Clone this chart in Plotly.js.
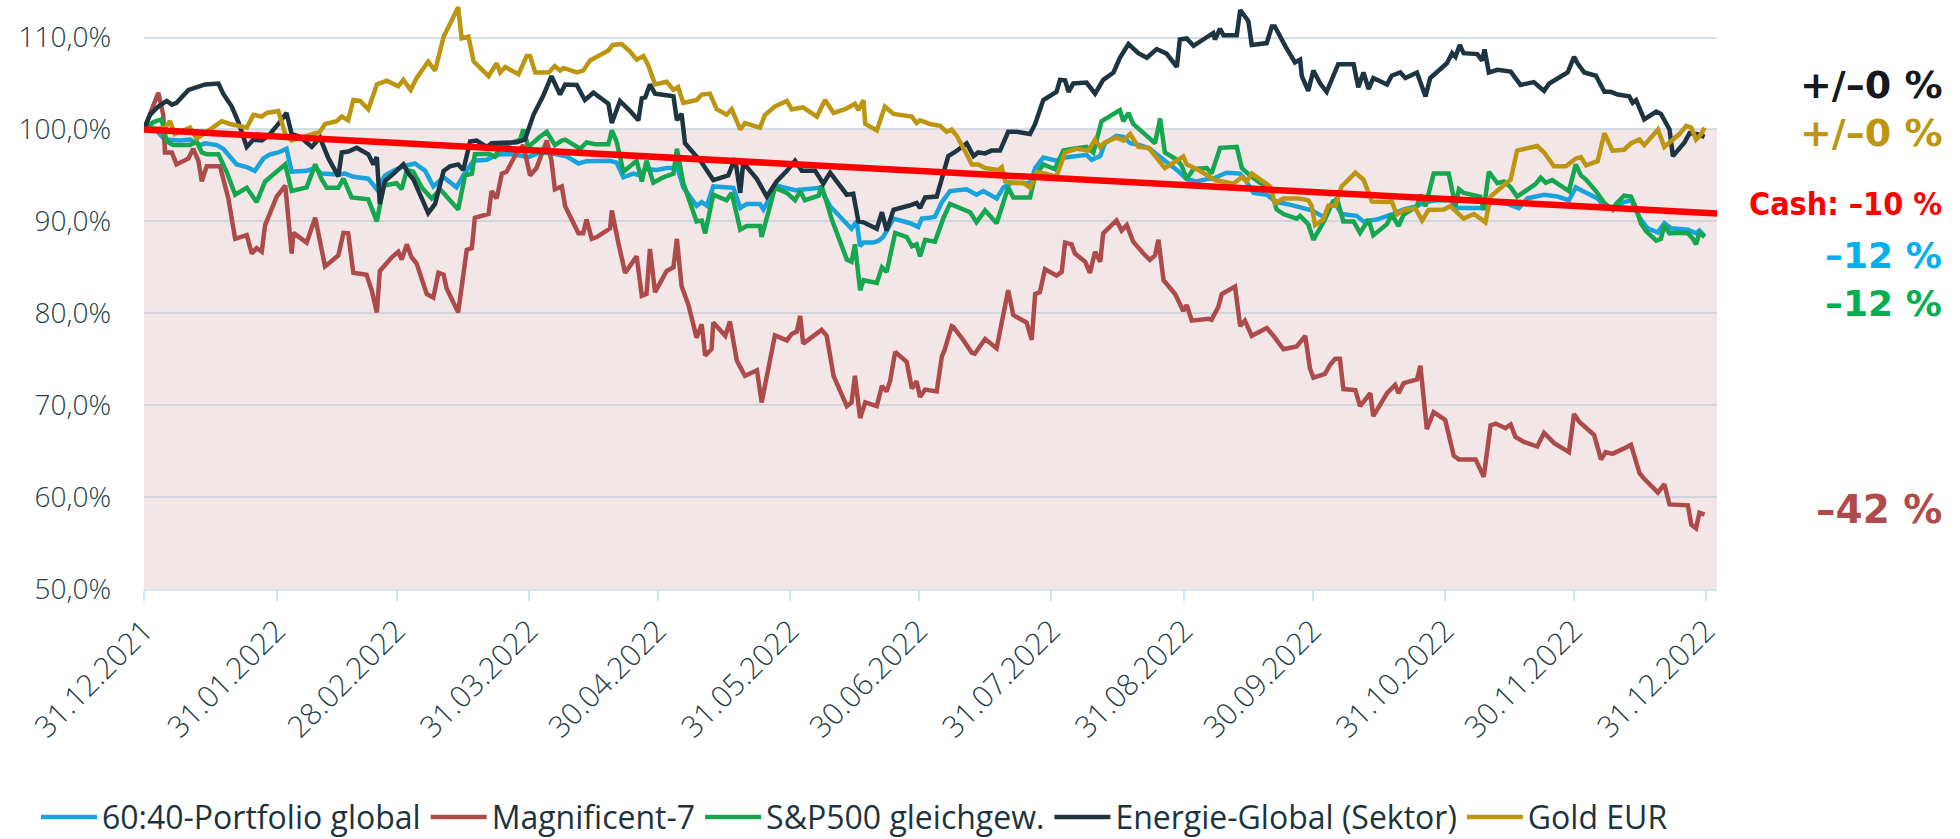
<!DOCTYPE html>
<html>
<head>
<meta charset="utf-8">
<script src="https://cdn.plot.ly/plotly-3.0.1.min.js"></script>
<style>
  html, body { margin: 0; padding: 0; background: #ffffff; }
  #chart { width: 1960px; height: 839px; }
</style>
</head>
<body>
<div id="chart"></div>
<script>
// ---- DATA (x = days since 31.12.2021, y = index value in %) ----
const seriesNames = ["60:40-Portfolio global", "Magnificent-7", "S&P500 gleichgew.", "Energie-Global (Sektor)", "Gold EUR"];

const p6040Days = [0,2.2,4.9,8.4,10.75,13.1,14.3,17,18.5,20.5,21.65,24,25.9,27.9,29.45,31.4,33.3,34.5,38,40,41.5,45.4,47,48.9,52.4,54.4,56.3,58.3,60.6,63.3,65.7,67.6,70,73,74.6,77,80.1,81.6,83.2,86.3,89.8,92.5,
  93.3,96.4,98.8,101.5,103.4,108.9,110.4,112.0,114.3,115.9,117.1,119.8,122.1,123.7,124.5,126.0,129.1,130.3,131.5,133.0,137.7,139.3,140.8,143.9,144.7,147.8,150.2,152.1,154.4,157.9,160.3,163.4,165.3,166.5,167.3,168.1,170.4,171.6,172.7,175.1,179.0,180.9,181.7,183.6,
  184.8,186.4,188.3,192.2,194.5,196.1,199.2,200.8,202.7,207.0,208.2,210.1,213.2,215.2,218.3,220.2,221.4,223.4,224.5,227.2,228.8,230.4,232.7,235.0,238.5,241.3,243.6,245.9,248.3,249.8,252.9,256.1,257.2,259.2,262.3,264.6,267.0,269.7,272.8,
  275.9,277.9,279.8,283.3,284.9,288.0,291.5,294.3,297.4,299.4,302.1,305.2,306.8,309.9,313.0,315.0,318.5,321.2,323.2,327.1,330.2,332.9,334.5,336.1,339.6,341.2,343.1,345.8,347.4,349.4,351.3,353.7,355.2,356.8,360.7,362.6,363.4,364.6];
const p6040Vals = [100,100.2,98.9,98.8,98.9,98.3,98.5,98.3,97.9,96.85,96.2,95.9,95.5,96.85,97.3,97.5,97.9,95.4,95.5,95.8,95.2,95.1,95.2,94.85,94.65,93.5,95.0,95.5,96.0,96.3,95.5,93.8,94.8,93.7,95.0,96.6,96.7,97.05,97.3,97.3,97.0,97.5,
  97.5,97.3,97.05,96.3,96.55,96.6,96.4,94.8,95.2,95.0,95.7,95.6,95.8,95.8,96.0,93.7,91.7,92.1,91.7,93.8,93.65,91.45,91.9,91.9,91.3,93.9,93.65,93.4,93.5,93.65,91.65,90.1,89.2,90.0,87.3,87.7,87.7,87.9,88.3,90.3,89.8,89.4,90.3,90.4,
  90.5,92.1,93.3,93.5,92.9,93.3,92.5,93.7,94.2,94.15,95.8,96.95,96.6,96.95,97.1,97.25,96.7,97.1,98.5,99.3,99.2,98.5,98.3,97.9,96.6,95.6,94.6,94.35,94.6,94.65,95.3,95.2,94.6,93.1,92.9,92.1,91.9,91.6,91.2,
  90.4,92.3,90.8,90.6,90.0,90.2,90.75,91.3,91.65,92.1,92.3,92.3,91.45,91.45,91.45,92.1,91.9,91.45,92.5,92.9,92.7,92.3,93.7,93.3,92.5,91.65,91.45,92.1,92.3,90.4,89.25,88.8,89.8,89.25,89.1,88.7,89.0,88.4];

const mag7Days = [0,3.35,4.5,4.9,6.5,7.6,10.4,11.5,12.7,13.5,14.65,17.75,19.7,21.3,24,25.2,26.3,27.5,28.3,31,33,34.5,34.9,38,40,42.3,45.4,46.6,47.7,48.9,52,53.2,54.4,55.1,57.9,59.4,60.2,61.4,62.5,63.7,66.05,67.6,68.8,70,70.7,73.4,75.4,76.6,77.3,80.5,81.2,82.4,83.6,84.7,87.1,88.6,90.2,
  91.7,94.1,95.2,96.0,97.6,98.4,101.5,102.6,103.4,104.6,105.8,108.9,109.3,110.8,112.4,115.1,116.3,117.4,118.2,119.4,122.1,123.7,124.5,125.6,127.2,129.1,130.3,131.1,132.6,133.0,135.8,136.9,138.5,140.4,143.2,144.3,147.4,150.2,151.3,152.5,153.3,154.0,158.3,159.5,161.1,164.2,165.3,166.1,167.3,168.5,171.2,172.4,173.5,174.3,175.5,178.2,179.4,180.5,181.3,182.5,
  185.2,186.4,187.1,188.7,189.1,191.4,193.4,194.1,196.5,199.2,200.4,201.9,203.1,205.4,206.2,207.4,208.2,209.3,210.5,213.2,214.4,215.2,216.7,217.5,219.9,221.0,222.2,223.4,224.1,227.2,228.4,229.6,231.1,233.5,235.0,236.2,237.0,238.2,240.9,242.8,243.6,244.8,248.7,249.4,251.0,251.8,254.9,256.1,257.2,258.8,262.3,263.9,266.2,269.3,271.3,272.4,273.2,
  275.9,277.1,278.3,279.4,280.2,283.0,284.1,286.5,287.2,290.4,292.3,293.1,294.3,297.4,298.2,299.7,301.3,304.0,306.0,307.2,311.1,313.0,314.6,315.8,318.1,319.3,320.4,322.4,325.5,327.1,329.4,332.9,334.1,335.3,338.8,340.4,341.5,343.1,345.8,347.4,349.4,350.5,353.7,355.2,356.4,359.5,360.7,361.5,362.6,363.4,364.6];
const mag7Vals = [100,104.0,101.6,97.5,97.5,96.2,96.85,97.9,96.6,94.35,96.0,96.0,92.5,88.1,88.5,86.5,87.1,86.7,89.6,92.7,93.9,86.5,88.75,87.7,90.4,85.1,86.3,88.75,88.7,84.4,84.2,82.5,80.1,84.6,86.1,86.7,85.85,87.5,86.1,85.4,82.1,81.7,84.4,84.2,82.7,80.1,86.9,87.1,90.4,90.8,93.3,92.5,95.2,95.4,97.5,98.3,95.0,
  95.8,98.8,96.6,93.5,93.8,91.65,88.7,88.7,90.2,88.1,88.3,89.25,91.2,87.7,84.4,86.2,81.9,82.1,87.0,82.3,84.6,85.0,88.1,82.95,80.9,77.35,78.8,75.4,76.1,79.0,77.55,79.1,74.85,73.2,73.8,70.3,77.6,77.05,77.75,78.0,79.7,76.7,78.2,77.55,73.2,69.9,70.3,73.2,68.6,70.3,69.9,72.1,71.5,72.6,75.8,74.7,71.8,72.6,70.9,71.7,
  71.5,75.3,76.1,78.6,78.5,77.1,75.7,75.6,77.2,76.2,79.2,82.5,79.8,79.2,79.0,77.1,82.1,82.3,84.8,84.1,84.5,87.7,87.5,86.5,85.6,84.4,86.7,85.6,88.7,90.1,89.0,89.6,87.8,86.5,85.8,86.3,88.0,83.6,82.1,80.25,80.9,79.2,79.4,79.3,80.7,82.1,82.9,78.6,79.2,77.55,78.4,77.55,76.1,76.4,77.55,74.0,73.0,
  73.4,74.4,75.05,75.05,71.75,71.65,69.9,71.3,68.8,71.3,72.2,71.3,72.4,72.8,74.3,67.4,69.25,68.4,64.5,64.1,64.1,62.2,67.8,68.0,67.5,67.9,66.55,66.0,65.5,67.0,65.9,64.9,69.05,68.2,66.75,64.1,64.9,64.7,65.3,65.7,62.6,62.0,60.5,61.4,59.2,59.2,59.1,57.0,56.6,58.3,58.1];

const spewDays = [0,2.2,4.1,5.3,6.85,10.75,12.3,13.5,14.65,17.4,19.3,21.3,24,26.3,28.3,31.8,33,34.5,38,40,41.5,42.7,45.4,46.6,48.5,52.4,54.4,56,59,60.2,61.4,62.9,64.9,67.2,69.2,73.4,75,76.6,77.3,80.5,82,83.2,86.3,87.9,88.6,89.8,92.5,
  94.1,96.0,97.6,98.4,101.9,103.4,105.4,108.5,109.3,110.4,112.0,115.1,116.3,117.4,119.0,121.3,123.7,124.5,126.0,129.1,130.3,131.1,133.0,136.1,137.3,139.3,140.8,143.9,144.3,147.4,150.2,152.1,153.3,154.4,157.6,158.3,160.7,164.2,165.3,166.1,167.3,168.1,171.2,172.4,173.5,175.5,178.2,179.4,180.5,181.3,182.5,
  184.8,186.8,188.3,191.8,193.0,194.5,195.7,196.5,199.2,201.9,203.1,207.0,208.2,210.1,212.8,214.8,217.1,220.2,221.8,223.7,228.0,228.8,230.0,231.1,235.0,236.2,237.4,238.5,241.3,242.4,243.6,245.2,248.3,249.4,251.4,253.7,255.3,256.5,258.4,260.7,263.1,264.6,266.2,269.3,270.1,272.0,273.2,
  275.9,277.5,278.7,279.4,280.2,282.6,284.1,286.1,287.2,290.4,291.5,293.1,294.3,297.4,298.2,299.4,301.3,304.8,306.4,307.2,308.3,312.2,313.0,314.2,316.2,317.7,319.3,320.8,322.4,325.1,326.3,327.5,329.0,331.0,332.9,334.5,335.7,336.9,339.2,341.2,343.1,343.9,345.8,347.4,348.6,349.7,350.9,353.3,354.4,355.2,356.4,358.3,360.7,361.9,362.6,363.4,364.6];
const spewVals = [100,100.8,101.1,98.7,98.3,98.3,98.7,97.5,97.3,97.3,95.4,92.9,93.65,92.1,94.35,95.8,96.2,93.3,93.7,96.2,94.6,93.65,93.65,94.65,92.6,92.4,90.0,93.9,94.15,93.5,95.6,95.4,93.7,92.5,93.5,91.3,95.0,95.2,97.3,97.35,97.05,98.1,98.6,98.9,100.0,98.1,99.2,
  99.75,98.3,98.8,98.9,97.9,98.6,98.4,98.4,99.9,98.7,95.4,96.6,94.35,96.6,94.2,94.8,95.2,97.9,94.15,90.0,90.1,88.7,92.9,92.3,93.1,89.1,89.5,89.5,88.3,93.65,93.1,92.3,93.3,92.3,92.8,93.9,90.2,85.85,85.6,87.5,82.5,83.6,83.3,85.0,84.5,88.75,88.3,87.3,87.5,86.2,88.0,
  87.8,90.4,91.9,91.3,91.0,89.9,90.6,91.2,89.8,93.7,92.6,92.6,95.0,96.2,95.7,97.7,97.9,98.1,97.5,100.9,102.1,100.9,101.8,100.6,99.0,98.5,101.2,97.5,96.7,96.1,94.6,95.7,95.8,95.2,98.0,98.1,98.1,95.8,95.0,94.2,93.7,91.3,90.8,90.3,90.6,89.7,88.0,
  90.2,91.9,92.5,91.3,90.0,90.0,88.75,90.2,88.5,89.7,90.75,89.5,90.75,91.65,92.9,91.65,95.2,95.2,91.65,93.5,93.1,92.7,91.25,95.4,94.15,94.35,93.7,92.7,93.2,94.05,94.75,94.2,94.5,93.9,93.3,96.2,95.0,94.55,93.3,92.0,91.25,91.9,92.8,92.7,91.45,89.8,88.95,87.9,88.1,89.6,88.7,88.75,88.7,88.1,87.5,88.75,88.3];

const energyDays = [0,1.4,3.35,5.3,6.5,7.6,10.4,12.7,14.3,17.4,18.5,20.5,22.05,24,25.55,27.5,29.05,31.4,33.3,34.5,36.45,39.2,41.1,43.1,45.4,46.2,47.7,49.7,52.4,53.6,54.4,55.1,56.3,58.3,60.6,61.8,62.9,64.9,66.4,68,70,71.5,73.4,74.6,76.2,77.7,80.1,81.2,84,87.1,89,91,
  93.3,95.2,97.2,98.4,101.1,103.0,105.0,108.5,109.3,111.2,113.6,115.5,116.3,117.1,118.2,119.4,122.5,123.7,124.5,125.6,126.4,128.3,130.3,133.0,136.5,138.1,139.3,140.0,143.2,145.5,147.8,150.2,152.1,153.7,156.8,158.7,160.3,164.2,165.7,166.9,168.1,171.2,172.4,173.5,175.1,178.6,180.5,181.3,182.5,
  185.2,186.4,187.9,189.5,192.2,193.8,194.9,196.5,198.0,200.0,201.9,203.9,207.0,208.2,210.1,213.2,214.0,215.2,216.0,217.1,220.2,222.2,224.1,226.5,228.0,230.0,232.3,234.3,236.6,238.9,241.3,242.0,243.6,245.2,248.3,249.8,250.2,251.4,252.2,255.3,256.1,258.0,258.8,262.3,263.5,264.2,266.6,268.9,270.1,270.5,272.0,273.2,274.8,
  276.3,279.0,282.6,283.7,284.9,286.1,287.2,290.4,291.5,293.5,294.7,297.4,299.4,300.5,304.4,305.6,306.4,307.4,308.3,311.5,312.6,313.2,314.2,316.2,319.3,321.6,324.7,327.1,328.3,332.6,334.1,334.9,336.5,339.2,341.2,342.7,344.3,347.0,347.8,348.6,350.5,353.3,354.4,356.4,357.2,359.9,361.1,363.0,364.6];
const energyVals = [100,101.6,102.5,103.1,102.7,102.9,104.3,104.6,104.9,105.0,103.9,102.5,100.8,98.1,98.9,98.8,99.3,100.6,101.8,99.5,99.2,98.1,99.1,96.85,94.9,97.5,97.6,98.0,97.3,96.2,97.0,91.9,94.4,95.2,96.2,95.2,94.6,92.5,90.9,91.9,95.5,96.0,96.2,95.6,98.7,98.8,98.1,98.5,98.5,98.6,98.9,101.6,
  103.7,105.8,103.8,104.9,104.85,103.2,104.0,102.8,100.7,103.1,102.0,101.0,103.4,103.5,104.9,103.9,103.7,103.6,101.0,101.7,98.5,97.5,96.4,94.5,95.0,96.85,93.1,96.4,94.6,92.7,94.35,95.5,96.6,95.5,95.5,94.1,95.3,92.9,93.0,90.0,89.9,89.2,91.0,89.0,91.25,91.7,92.0,91.45,92.6,
  92.7,94.55,97.1,97.55,98.5,97.1,97.5,97.4,97.7,97.7,99.75,99.75,99.5,100.6,103.2,104.1,105.4,105.35,104.1,105.0,105.1,103.9,105.4,106.2,107.8,109.3,108.3,107.8,108.75,108.25,106.8,109.8,109.9,109.1,110.0,110.5,109.8,110.95,110.25,110.25,113.0,111.8,109.2,109.4,111.2,111.2,109.1,107.3,107.6,105.8,104.2,106.4,105.0,
  104.1,107.1,107.1,104.6,106.2,104.4,105.6,104.9,105.85,106.2,105.6,106.2,103.6,105.6,107.2,108.3,107.9,109.2,108.3,108.2,107.5,108.7,106.2,106.5,106.3,104.85,105.15,104.2,105.0,106.2,107.9,107.2,106.2,105.85,104.1,104.1,103.8,103.6,102.9,103.2,101.1,101.95,101.7,100.0,97.1,98.6,99.6,99.5,99.2];

const goldDays = [0,4.9,6.1,7.2,10.75,12.3,14.65,18.15,20.1,24,25.55,27.5,28.7,31.4,33,34.5,38,41.1,42.3,45,46.2,47.7,48.9,50.5,52.4,54.4,56.7,59.4,60.6,62.3,63.7,66.4,68,70,73.4,74.2,75.8,77,80.5,82.4,83.2,84.4,87.5,89.4,90.2,91.4,
  94.5,96.0,97.2,98.0,101.1,102.6,104.2,105.8,108.5,109.5,111.6,113.5,115.1,116.7,117.8,119.4,122.1,123.7,124.8,126.0,129.1,130.3,132.2,133.8,136.1,137.3,139.3,140.4,143.9,145.1,147.4,150.2,151.3,154.0,157.2,159.1,161.1,163.8,166.1,166.9,168.1,168.5,171.2,173.1,175.1,179.4,180.5,181.3,
  183.6,186.0,187.5,188.7,189.9,192.2,193.4,194.9,196.5,199.6,200.4,201.2,202.7,205.4,207.0,208.6,210.9,213.2,215.2,217.9,220.6,222.2,223.4,224.5,227.2,228.8,230.4,232.3,234.7,237.4,238.5,242.8,243.6,246.3,248.7,250.2,254.5,256.5,257.6,258.8,260.7,263.1,264.2,266.2,269.7,270.9,272.0,272.8,273.6,
  275.5,276.7,278.3,279.8,281.4,283.0,284.9,286.9,290.4,291.5,292.7,294.3,297.0,298.6,300.1,303.65,305.2,306.8,308.3,310.7,313.4,314.6,317.3,319.3,320.8,323.2,325.5,327.1,329.4,332.2,334.5,335.7,336.9,339.6,341.2,343.1,345.8,347.4,349.4,350.5,353.7,355.2,356.8,358.7,360.3,361.5,362.6,363.8,364.6];
const goldVals = [100,100.2,100.9,99.5,100.2,99.0,99.75,100.9,100.6,100.2,101.6,101.4,101.8,102.0,99.5,98.8,99.3,99.75,100.6,100.9,101.4,101.0,103.2,103.1,102.2,104.9,105.3,104.7,105.4,104.3,105.6,107.4,106.4,110.1,113.3,109.9,110.1,107.4,105.8,107.2,106.2,106.8,106.0,108.0,108.0,106.2,
  106.2,106.9,106.4,106.7,106.2,106.4,107.5,107.9,108.6,109.2,109.3,108.5,107.6,108.0,107.0,104.9,105.2,104.3,104.6,102.9,103.2,103.8,103.9,102.2,101.6,102.2,100.0,100.7,100.2,101.6,102.5,103.1,102.2,102.4,101.4,103.2,101.8,102.2,102.8,102.1,103.2,100.6,99.9,102.5,101.7,101.4,100.7,101.0,
  100.6,100.4,99.75,100.0,99.3,97.3,96.2,96.2,95.8,95.6,95.9,94.35,94.2,94.2,93.65,95.4,95.2,94.9,97.5,97.9,97.7,98.9,98.1,98.6,99.1,98.8,99.5,98.1,98.0,96.4,95.8,97.05,96.2,95.6,95.0,94.5,94.1,94.8,94.35,95.2,94.6,93.8,92.0,92.5,92.5,92.4,92.3,91.7,89.6,
  90.2,91.7,91.7,93.8,94.55,95.3,94.55,92.15,92.1,92.15,90.75,91.2,91.45,90.1,91.25,91.3,91.65,91.0,90.3,90.8,89.9,92.7,93.7,94.55,97.7,97.9,98.2,97.5,96.0,96.0,96.85,97.0,96.1,96.55,99.6,97.7,97.8,98.5,98.9,98.3,100.0,98.1,98.7,99.5,100.4,100.2,98.9,99.5,100.2];

// Cash benchmark (straight line from 100 % to about 90,9 %)
const cashDays = [0, 367.5];
const cashVals = [100, 90.85];

// Axis ticks
const xTickDates = ["2021-12-31","2022-01-31","2022-02-28","2022-03-31","2022-04-30","2022-05-31","2022-06-30","2022-07-31","2022-08-31","2022-09-30","2022-10-31","2022-11-30","2022-12-31"];
const xTickLabels = ["31.12.2021","31.01.2022","28.02.2022","31.03.2022","30.04.2022","31.05.2022","30.06.2022","31.07.2022","31.08.2022","30.09.2022","31.10.2022","30.11.2022","31.12.2022"];
const yTickVals = [50, 60, 70, 80, 90, 100, 110];
const yTickLabels = ["50,0%", "60,0%", "70,0%", "80,0%", "90,0%", "100,0%", "110,0%"];

// Right-hand result labels
const endLabels = ["+/–0 %", "+/–0 %", "Cash: –10 %", "–12 %", "–12 %", "–42 %"];

// ---- STYLE ----
const colors = ["#18a3dd", "#ad4b4b", "#15a650", "#1d3540", "#bd9511"];
const labelColors = ["#141a1f", "#bd9511", "#ff0000", "#00b0f0", "#00b050", "#b04b4b"];
const labelY = [0.857, 0.775, 0.655, 0.568, 0.486, 0.136];
const labelSize = [38, 38, 32, 36, 36, 39];
const labelFamily = [
  "DejaVu Sans, sans-serif", "DejaVu Sans, sans-serif",
  "DejaVu Sans Condensed, DejaVu Sans, sans-serif",
  "DejaVu Sans, sans-serif", "DejaVu Sans, sans-serif", "DejaVu Sans, sans-serif"
];

const base = Date.UTC(2021, 11, 31);
function toDate(d) {
  return new Date(base + d * 86400000).toISOString().replace('T', ' ').slice(0, 19);
}

const dayArrays = [p6040Days, mag7Days, spewDays, energyDays, goldDays];
const valArrays = [p6040Vals, mag7Vals, spewVals, energyVals, goldVals];

const traces = seriesNames.map((name, i) => ({
  type: 'scatter',
  mode: 'lines',
  name: name,
  x: dayArrays[i].map(toDate),
  y: valArrays[i],
  line: { color: colors[i], width: 4.5, shape: 'linear' },
  hoverinfo: 'skip'
}));

traces.push({
  type: 'scatter',
  mode: 'lines',
  name: 'Cash',
  x: cashDays.map(toDate),
  y: cashVals,
  line: { color: '#ff0000', width: 6.5 },
  showlegend: false,
  hoverinfo: 'skip'
});

const annotations = endLabels.map((t, i) => ({
  text: '<b>' + t + '</b>',
  xref: 'paper', yref: 'paper',
  x: 1.1443, y: labelY[i],
  xanchor: 'right', yanchor: 'middle',
  showarrow: false,
  font: { family: labelFamily[i], size: labelSize[i], color: labelColors[i] }
}));

const layout = {
  width: 1960,
  height: 839,
  margin: { l: 144, r: 243, t: 1, b: 250, pad: 0, autoexpand: false },
  paper_bgcolor: '#ffffff',
  plot_bgcolor: 'rgba(0,0,0,0)',
  separators: ',.',
  font: { family: 'Open Sans, sans-serif', color: '#24404a' },
  showlegend: true,
  legend: {
    orientation: 'h',
    xref: 'paper', yref: 'paper',
    x: -0.0687, xanchor: 'left',
    y: -0.388, yanchor: 'middle',
    font: { family: 'Open Sans, sans-serif', size: 32, color: '#1b3440' },
    itemwidth: 56,
    traceorder: 'normal',
    bgcolor: 'rgba(0,0,0,0)'
  },
  xaxis: {
    type: 'date',
    range: [toDate(0), toDate(367.5)],
    tickmode: 'array',
    tickvals: xTickDates,
    ticktext: xTickLabels,
    tickangle: -45,
    tickfont: { family: 'Open Sans, sans-serif', size: 30, color: '#24404a', weight: 300 },
    showgrid: false,
    zeroline: false,
    showline: true,
    linecolor: '#d3e6ef',
    linewidth: 2,
    ticks: 'outside',
    ticklen: 10,
    tickwidth: 2,
    tickcolor: '#d3e6ef',
    automargin: false,
    fixedrange: true
  },
  yaxis: {
    range: [50, 113.98],
    tickmode: 'array',
    tickvals: yTickVals,
    ticktext: yTickLabels,
    tickfont: { family: 'Open Sans, sans-serif', size: 28, color: '#24404a', weight: 300 },
    ticks: '',
    ticklabelstandoff: 32,
    showgrid: true,
    gridcolor: 'rgba(185,200,212,0.6)',
    gridwidth: 2,
    zeroline: false,
    showline: false,
    automargin: false,
    fixedrange: true
  },
  shapes: [{
    type: 'rect',
    xref: 'paper', yref: 'y',
    x0: 0, x1: 1, y0: 50, y1: 100,
    fillcolor: '#f3e6e6',
    line: { width: 0 },
    layer: 'below'
  }],
  annotations: annotations
};

Plotly.newPlot('chart', traces, layout, { displayModeBar: false, staticPlot: true });
</script>
</body>
</html>
